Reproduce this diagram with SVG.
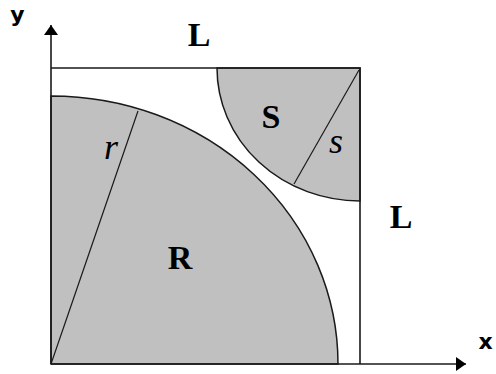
<svg xmlns="http://www.w3.org/2000/svg" width="496" height="374" viewBox="0 0 496 374">
<style>
.region{fill:#c0c0c0;stroke:#1a1a1a;stroke-width:1.5}
.edge{fill:none;stroke:#1a1a1a;stroke-width:1.6}
.radius{fill:none;stroke:#1a1a1a;stroke-width:1.2}
.big{font-family:"Liberation Serif","Times New Roman",serif;font-weight:bold;font-size:34px;fill:#000;text-anchor:middle}
.ital{font-family:"Liberation Serif","Times New Roman",serif;font-style:italic;font-size:36px;fill:#000;text-anchor:middle}
.axis{font-family:"DejaVu Sans",sans-serif;font-weight:bold;font-size:22px;fill:#000;text-anchor:middle}
</style>
<defs>
<marker id="arrow" viewBox="0 0 10 14" refX="10" refY="7" markerWidth="10" markerHeight="14" markerUnits="userSpaceOnUse" orient="auto">
<path d="M0,0 L10,7 L0,14 Z" fill="#000"/>
</marker>
</defs>
<g id="region-R">
<path class="region" d="M51,364 L51,96 A287,268 0 0 1 338,364 Z"/>
</g>
<g id="region-S">
<path class="region" d="M360,68 L217,68 A143,133 0 0 0 360,201 Z"/>
</g>
<g id="square">
<path class="edge" d="M51,68 L360,68 L360,364"/>
</g>
<g id="connectors">
<line class="radius" x1="51" y1="364" x2="138" y2="111"/>
<line class="radius" x1="359" y1="70" x2="294" y2="184"/>
<line class="edge" x1="51" y1="364" x2="51" y2="25" marker-end="url(#arrow)"/>
<line class="edge" x1="51" y1="364" x2="466" y2="364" marker-end="url(#arrow)"/>
</g>
<g id="labels">
<text class="big" x="199" y="46">L</text>
<text class="big" x="271" y="128">S</text>
<text class="ital" x="336" y="153">s</text>
<text class="ital" x="111" y="159">r</text>
<text class="big" x="180" y="269">R</text>
<text class="big" x="401" y="228">L</text>
<text class="axis" x="17.5" y="22">y</text>
<text class="axis" x="485.5" y="349">x</text>
</g>
</svg>
